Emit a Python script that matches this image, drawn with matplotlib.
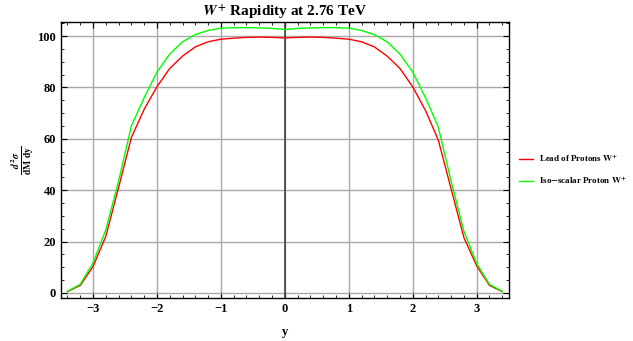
import matplotlib
matplotlib.use("Agg")
import matplotlib.pyplot as plt
from matplotlib.ticker import MultipleLocator

plt.rcParams["font.family"] = ["Liberation Serif", "DejaVu Serif"]
plt.rcParams["font.weight"] = "bold"
plt.rcParams["mathtext.fontset"] = "stix"

# rapidity points and cross sections
rapidity = [-3.4, -3.2, -3.0, -2.8, -2.6, -2.4, -2.2, -2.0, -1.8, -1.6, -1.4, -1.2,
            -1.0, -0.8, -0.6, -0.4, -0.2, 0.0, 0.2, 0.4, 0.6, 0.8, 1.0, 1.2,
            1.4, 1.6, 1.8, 2.0, 2.2, 2.4, 2.6, 2.8, 3.0, 3.2, 3.4]
lead_protons = [0.5, 2.9, 10.2, 22.0, 41.0, 60.5, 71.5, 80.3, 87.4, 92.2, 95.8, 97.8,
                98.8, 99.2, 99.5, 99.6, 99.5, 99.3, 99.5, 99.6, 99.5, 99.2, 98.8, 97.8,
                95.8, 92.2, 87.4, 80.2, 71.0, 59.5, 40.5, 21.5, 10.5, 2.9, 0.5]
iso_scalar = [0.6, 3.3, 11.6, 24.5, 43.5, 65.0, 76.0, 86.0, 93.0, 97.8, 100.6, 102.2,
              103.1, 103.3, 103.3, 103.2, 103.0, 102.6, 103.0, 103.2, 103.3, 103.3, 103.1, 102.2,
              100.6, 97.8, 93.0, 86.0, 76.0, 64.5, 43.5, 24.0, 11.4, 3.3, 0.6]

fig = plt.figure(figsize=(6.33, 3.41), dpi=100)
ax = fig.add_axes([0.0964, 0.1261, 0.7072, 0.8094])

ax.plot(rapidity, lead_protons, color="#ff0000", lw=1.0, label=r"Lead of Protons $\mathbf{W^{+}}$")
ax.plot(rapidity, iso_scalar, color="#00ff00", lw=1.0, label=r"Iso$-$scalar Proton $\mathbf{W^{+}}$")

ax.set_xlim(-3.5, 3.5)
ax.set_ylim(-2, 105.5)
ax.xaxis.set_major_locator(MultipleLocator(1))
ax.xaxis.set_minor_locator(MultipleLocator(0.2))
ax.yaxis.set_major_locator(MultipleLocator(20))
ax.yaxis.set_minor_locator(MultipleLocator(5))
ax.tick_params(which="both", direction="in", top=True, right=True, labelsize=9)
ax.tick_params(which="major", length=4, width=0.8)
ax.tick_params(which="minor", length=2, width=0.6)
ax.set_xticks([-3, -2, -1, 0, 1, 2, 3])
ax.set_xticklabels(["\u22123", "\u22122", "\u22121", "0", "1", "2", "3"])

ax.grid(True, which="major", color="#a8a8a8", lw=1.0)
ax.set_axisbelow(True)
ax.axvline(0, color="#404040", lw=1.2, zorder=1)

for s in ax.spines.values():
    s.set_linewidth(1.0)

ax.set_title(r"$\mathit{W}^{+}$ Rapidity at 2.76 TeV", fontsize=11, fontweight="bold", pad=3)
ax.set_xlabel("y", fontsize=9, fontweight="bold", labelpad=8)
ax.set_ylabel(r"$\frac{d^2\sigma}{\mathrm{dM\ dy}}$", fontsize=10, labelpad=1)

ax.legend(loc="center left", bbox_to_anchor=(1.005, 0.466), frameon=False,
          fontsize=6.5, handlelength=1.6, labelspacing=1.1, handletextpad=0.6)

fig.savefig("out.png", dpi=100)
